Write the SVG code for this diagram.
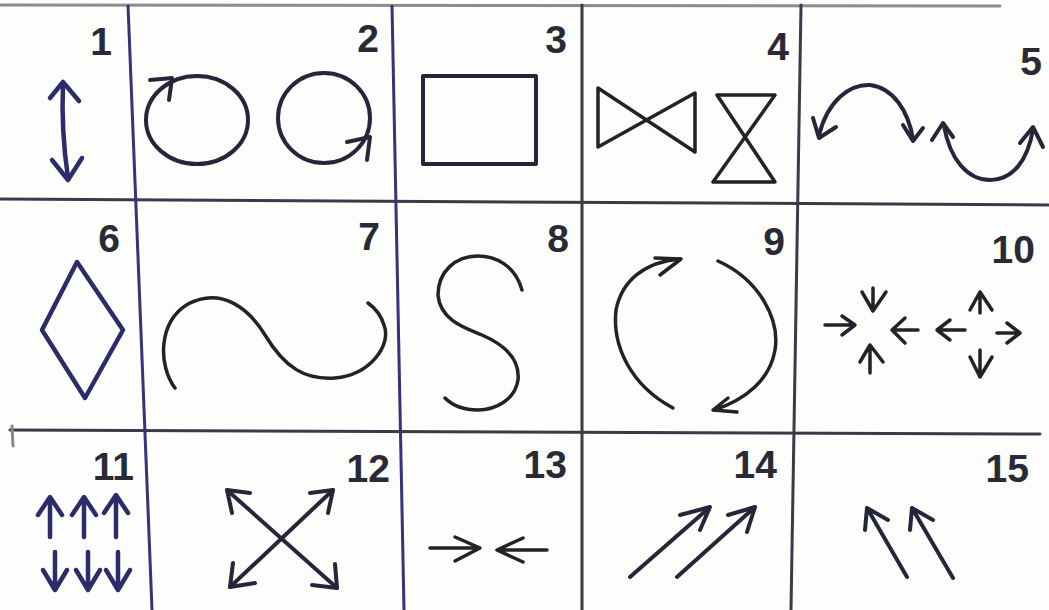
<svg xmlns="http://www.w3.org/2000/svg" width="1049" height="610" viewBox="0 0 1049 610">
<style>
.grid{stroke:#3a3a48;stroke-width:3;fill:none;stroke-linecap:round}
.gridb{stroke:#34347a;stroke-width:3;fill:none}
.s{stroke:#26263a;stroke-width:4;fill:none;stroke-linecap:round;stroke-linejoin:round}
.sb{stroke:#2c2c6a;stroke-width:4.5;fill:none;stroke-linecap:round;stroke-linejoin:round}
.t{stroke:#222228;stroke-width:3.5;fill:none;stroke-linecap:round;stroke-linejoin:round}
.n{font-family:"Liberation Sans",Arial,sans-serif;font-weight:bold;font-size:39px;fill:#2a2a36;text-anchor:end}
</style>
<rect width="1049" height="610" fill="#fdfdfb"/>
<g id="grid">
<line class="grid" x1="0" y1="5" x2="1000" y2="6" style="stroke:#8a8a92"/>
<line class="grid" x1="0" y1="199" x2="1049" y2="205"/>
<line class="grid" x1="10" y1="430" x2="1040" y2="434"/>
<line class="gridb" x1="128" y1="5" x2="152" y2="610"/>
<line class="gridb" x1="392" y1="5" x2="404" y2="610"/>
<line class="grid" x1="582" y1="5" x2="582" y2="610"/>
<line class="grid" x1="801" y1="5" x2="791" y2="610"/>
<line class="grid" x1="12" y1="426" x2="13" y2="446" style="stroke:#888"/>
</g>
<g id="cell1">
<text class="n" x="112" y="55">1</text>
<path class="sb" d="M63,84 Q61,130 68,178"/>
<polyline class="sb" points="50,98 63,82 79,101"/>
<polyline class="sb" points="52,160 68,180 82,158"/>
</g>
<g id="cell2">
<text class="n" x="379" y="52">2</text>
<ellipse class="s" cx="197" cy="120" rx="51" ry="44"/>
<polyline class="s" points="150,80 172,78 169,100"/>
<ellipse class="s" cx="324" cy="118" rx="46" ry="45"/>
<polyline class="s" points="347,142 370,137 367,160"/>
</g>
<g id="cell3">
<text class="n" x="567" y="53">3</text>
<rect class="s" x="423" y="76" width="113" height="88"/>
</g>
<g id="cell4">
<text class="n" x="789" y="60">4</text>
<path class="t" d="M598,88 L695,152 L695,93 L598,147 Z"/>
<path class="t" d="M717,95 L775,95 L713,182 L775,182 Z"/>
</g>
<g id="cell5">
<text class="n" x="1042" y="75">5</text>
<path class="s" d="M819,135 C828,100 850,84 870,85 C893,88 908,110 913,139"/>
<polyline class="s" points="813,118 819,138 836,127"/>
<polyline class="s" points="903,125 913,141 923,128"/>
<path class="s" d="M944,126 C950,160 968,180 990,180 C1013,180 1028,160 1033,129"/>
<polyline class="s" points="932,140 943,123 953,137"/>
<polyline class="s" points="1020,143 1033,127 1043,147"/>
</g>
<g id="cell6">
<text class="n" x="120" y="252">6</text>
<path class="sb" d="M77,262 L123,330 L85,398 L42,330 Z"/>
</g>
<g id="cell7">
<text class="n" x="380" y="250">7</text>
<path class="t" d="M175,388 C158,365 158,322 188,304 C222,286 250,310 265,335 C285,368 305,380 335,378 C370,375 392,345 384,325 C381,315 375,308 368,303"/>
</g>
<g id="cell8">
<text class="n" x="569" y="252">8</text>
<path class="t" d="M522,290 C515,265 495,256 478,256 C455,256 438,272 438,295 C440,320 465,328 482,335 C505,345 520,360 518,380 C515,400 495,410 478,410 C462,410 452,405 445,398"/>
</g>
<g id="cell9">
<text class="n" x="785" y="255">9</text>
<path class="t" d="M673,408 C630,385 612,345 616,310 C622,280 645,262 680,259"/>
<polyline class="t" points="655,258 681,259 660,275"/>
<path class="t" d="M718,261 C760,280 780,320 775,350 C770,380 745,400 714,410"/>
<polyline class="t" points="728,398 713,410 737,412"/>
</g>
<g id="cell10">
<text class="n" x="1035" y="263">10</text>
<path class="t" d="M873,288 L873,311 M862,292 L873,311 L886,292"/>
<path class="t" d="M870,373 L870,345 M860,362 L870,345 L883,362"/>
<path class="t" d="M825,325 L855,325 M842,316 L855,325 L842,335"/>
<path class="t" d="M918,330 L892,330 M905,318 L892,330 L905,343"/>
<path class="t" d="M980,313 L980,292 M970,310 L980,292 L992,310"/>
<path class="t" d="M980,350 L980,377 M970,357 L980,377 L992,357"/>
<path class="t" d="M965,330 L937,330 M950,320 L937,330 L950,340"/>
<path class="t" d="M997,333 L1020,333 M1007,323 L1020,333 L1007,343"/>
</g>
<g id="cell11">
<text class="n" x="134" y="480">11</text>
<path class="sb" d="M50,498 L50,537 M38,515 L50,497 L62,515"/>
<path class="sb" d="M84,498 L84,537 M72,515 L84,497 L96,515"/>
<path class="sb" d="M116,496 L116,537 M104,513 L116,495 L128,513"/>
<path class="sb" d="M55,552 L55,589 M43,570 L55,590 L67,570"/>
<path class="sb" d="M88,552 L88,589 M76,570 L88,590 L100,570"/>
<path class="sb" d="M118,552 L118,589 M106,570 L118,590 L130,570"/>
</g>
<g id="cell12">
<text class="n" x="390" y="482">12</text>
<path class="s" d="M227,490 L337,588 M333,490 L230,587"/>
<polyline class="s" points="250,493 227,490 232,513"/>
<polyline class="s" points="310,493 333,490 328,513"/>
<polyline class="s" points="233,563 230,587 255,583"/>
<polyline class="s" points="335,564 337,588 312,585"/>
</g>
<g id="cell13">
<text class="n" x="567" y="478">13</text>
<path class="t" d="M430,548 L480,548 M455,537 L480,548 L455,561"/>
<path class="t" d="M547,550 L497,550 M523,538 L497,550 L523,562"/>
</g>
<g id="cell14">
<text class="n" x="777" y="478">14</text>
<path class="s" d="M630,577 L710,507 M680,515 L710,507 L700,530"/>
<path class="s" d="M677,577 L755,507 M728,515 L755,507 L747,532"/>
</g>
<g id="cell15">
<text class="n" x="1029" y="482">15</text>
<path class="s" d="M907,577 L867,508 M888,520 L867,508 L865,530"/>
<path class="s" d="M953,578 L912,508 M933,520 L912,508 L910,530"/>
</g>
</svg>
